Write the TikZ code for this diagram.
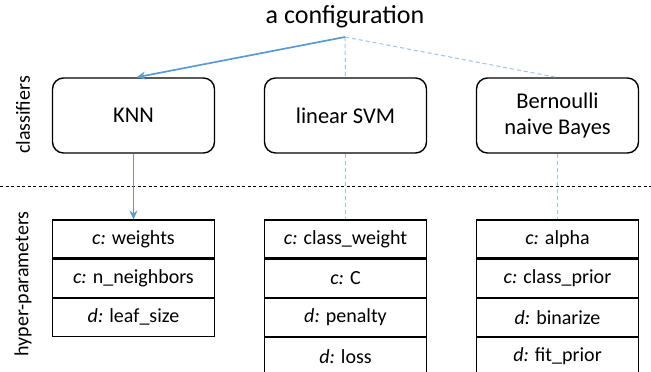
\documentclass[tikz,border=0pt]{standalone}
\usepackage{fontspec}
\setmainfont{Carlito}
\usetikzlibrary{arrows.meta}
\definecolor{arrowblue}{HTML}{5B9BD5}
\definecolor{lightblue}{HTML}{9DC3E6}
\tikzset{
  clsbox/.style={draw=black, line width=1.4pt, rounded corners=11pt, minimum width=162pt, minimum height=75pt, align=center, inner sep=0pt, font=\fontsize{22.5}{27}\selectfont},
  cell/.style={draw=black, line width=1.1pt, minimum width=162pt, minimum height=38pt, inner sep=0pt, font=\fontsize{20}{24}\selectfont},
  solidarrow/.style={draw=arrowblue, line width=1.7pt, -{Stealth[length=9pt,width=8pt]}},
  dashlink/.style={draw=lightblue, line width=1pt, dash pattern=on 4pt off 3pt},
  sidelabel/.style={rotate=90, font=\fontsize{20}{24}\selectfont},
}
\begin{document}
\begin{tikzpicture}[x=1pt, y=-1pt]
\useasboundingbox (0,0) rectangle (651,372);
\clip (0,0) rectangle (651,372);
\node[font=\fontsize{26}{31}\selectfont] (title) at (345,17) {a configuration};
\coordinate (apex) at (345,37);
\node[sidelabel] (lblcls) at (23,115) {classifiers};
\node[sidelabel] (lblhp) at (23,284) {hyper-parameters};
\coordinate (sepl) at (0,186);
\coordinate (sepr) at (651,186);
\draw[line width=0.8pt, dash pattern=on 3pt off 2.5pt] (sepl) -- (sepr);

\node[clsbox] (knn) at (133.5,115.5) {KNN};
\node[clsbox] (svm) at (345.5,115.5) {linear SVM};
\node[clsbox] (bnb) at (557.5,115.5) {Bernoulli\\naive Bayes};

% tables
\node[cell] (k1) at (133.5,239) {\textit{c:} weights};
\node[cell, anchor=north] (k2) at (k1.south) {\textit{c:} n\_neighbors};
\node[cell, anchor=north] (k3) at (k2.south) {\textit{d:} leaf\_size};

\node[cell] (s1) at (345.5,239) {\textit{c:} class\_weight};
\node[cell, anchor=north] (s2) at (s1.south) {\textit{c:} C};
\node[cell, anchor=north] (s3) at (s2.south) {\textit{d:} penalty};
\node[cell, anchor=north] (s4) at (s3.south) {\textit{d:} loss};

\node[cell] (b1) at (557.5,239) {\textit{c:} alpha};
\node[cell, anchor=north] (b2) at (b1.south) {\textit{c:} class\_prior};
\node[cell, anchor=north] (b3) at (b2.south) {\textit{d:} binarize};
\node[cell, anchor=north] (b4) at (b3.south) {\textit{d:} fit\_prior};

% connectors
\draw[dashlink] (apex) -- (svm.north);
\draw[dashlink] (apex) -- ([xshift=-1pt]bnb.north);
\draw[solidarrow] (apex) -- ([xshift=3pt]knn.north);
\draw[solidarrow] (knn.south) -- (k1.north);
\draw[dashlink] (svm.south) -- (s1.north);
\draw[dashlink] (bnb.south) -- (b1.north);
\end{tikzpicture}
\end{document}
